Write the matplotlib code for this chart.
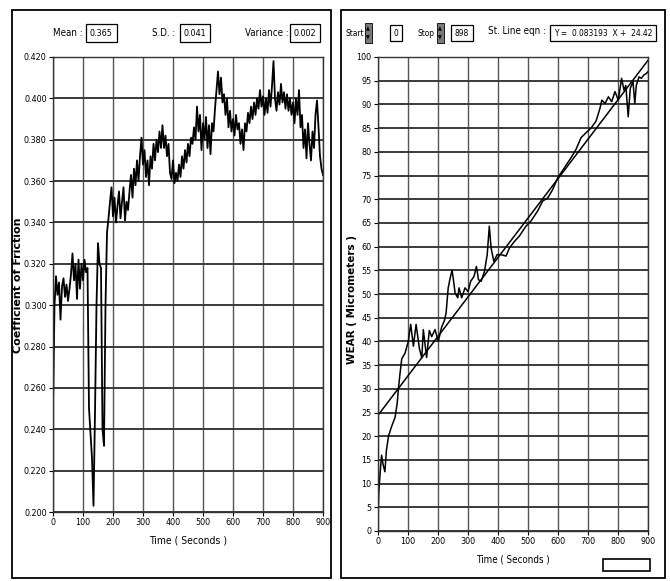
import numpy as np
import matplotlib
matplotlib.use("Agg")
from matplotlib import pyplot as plt
from matplotlib.patches import Rectangle

# coefficient of friction, sampled every 5 s
cof_time = np.arange(0, 901, 5)
cof_vals = [
    0.250, 0.300, 0.314, 0.305, 0.311, 0.293, 0.309, 0.313, 0.304, 0.310,
    0.302, 0.308, 0.315, 0.325, 0.312, 0.320, 0.303, 0.322, 0.308, 0.320,
    0.312, 0.322, 0.316, 0.318, 0.250, 0.238, 0.226, 0.203, 0.248, 0.300,
    0.330, 0.320, 0.318, 0.240, 0.232, 0.300, 0.335, 0.342, 0.350, 0.357,
    0.343, 0.352, 0.340, 0.348, 0.355, 0.342, 0.350, 0.357, 0.341, 0.350,
    0.346, 0.355, 0.363, 0.352, 0.366, 0.358, 0.370, 0.360, 0.372, 0.381,
    0.368, 0.375, 0.362, 0.370, 0.358, 0.372, 0.366, 0.378, 0.370, 0.380,
    0.374, 0.384, 0.376, 0.387, 0.376, 0.382, 0.372, 0.378, 0.364, 0.361,
    0.370, 0.359, 0.364, 0.360, 0.368, 0.362, 0.372, 0.366, 0.375, 0.369,
    0.378, 0.372, 0.381, 0.378, 0.386, 0.380, 0.396, 0.384, 0.392, 0.375,
    0.388, 0.380, 0.391, 0.376, 0.387, 0.373, 0.388, 0.384, 0.395, 0.404,
    0.413, 0.402, 0.410, 0.398, 0.402, 0.392, 0.400, 0.386, 0.394, 0.384,
    0.390, 0.382, 0.392, 0.385, 0.388, 0.378, 0.385, 0.375, 0.388, 0.384,
    0.393, 0.388, 0.396, 0.390, 0.398, 0.392, 0.400, 0.395, 0.404, 0.396,
    0.401, 0.392, 0.400, 0.393, 0.404, 0.396, 0.406, 0.418, 0.400, 0.394,
    0.403, 0.397, 0.407, 0.398, 0.403, 0.395, 0.402, 0.394, 0.400, 0.392,
    0.398, 0.388, 0.400, 0.392, 0.404, 0.386, 0.392, 0.376, 0.385, 0.371,
    0.388, 0.378, 0.370, 0.384, 0.376, 0.392, 0.399, 0.386, 0.372, 0.366,
    0.363,
]

# wear curve
wear_time = [0, 3, 8, 12, 17, 23, 28, 35, 45, 57, 64, 68, 73, 79, 90,
             101, 109, 118, 127, 138, 146, 151, 162, 171, 179, 190, 201, 212,
             222, 227, 234, 241, 247, 252, 257, 266, 270, 279, 290, 300, 309,
             320, 328, 335, 344, 355, 364, 371, 377, 386, 397, 410, 427, 438,
             455, 471, 493, 510, 532, 549, 566, 582, 599, 621, 643, 660, 677,
             693, 710, 727, 740, 746, 757, 768, 779, 790, 801, 812, 820, 826,
             834, 841, 850, 856, 861, 870, 878, 886, 894, 900]
wear_vals = [3.5, 8.7, 13, 16, 14, 12.5, 17, 20, 22, 24, 27, 30, 33, 36.3, 37.5,
             40, 43.6, 39, 43.6, 38.5, 36.5, 42.5, 36.6, 42.3, 41, 42.5, 40, 43,
             44.5, 46, 51.3, 53.5, 55, 52.7, 50.2, 49.2, 51.3, 49.2, 51.3, 50.5, 52.7,
             53.7, 55.8, 53, 52.7, 54.8, 58.3, 64.3, 59.7, 56.9, 58.3, 58.3, 58, 59.7,
             61.1, 62.2, 64.3, 65.4, 67.5, 69.6, 70.3, 72, 74.5, 76.6, 78.7, 80.5, 83,
             84, 85, 86.5, 89.2, 90.9, 90.2, 91.6, 90.6, 92.7, 90.9, 95.5, 93, 94,
             87.4, 93.4, 94.8, 90.2, 94, 95.8, 95.5, 96.2, 96.5, 96.9]

slope = 0.083193
intercept = 24.42
mean_cof, sd_cof, var_cof = "0.365", "0.041", "0.002"
start_val, stop_val = "0", "898"

plt.rcParams['font.family'] = ['DejaVu Sans']
plt.rcParams['font.stretch'] = 'condensed'

fig = plt.figure(figsize=(6.70, 5.81), dpi=100)
W, H = 670.0, 581.0

def fx(px):
    return px / W

def fy(py):
    return 1 - py / H

def frame(x0, y0, x1, y1, lw=1.2):
    fig.patches.append(Rectangle((fx(x0), fy(y1)), fx(x1) - fx(x0), fy(y0) - fy(y1),
                                 transform=fig.transFigure, fill=False,
                                 edgecolor='black', linewidth=lw))

def valbox(x, y, s, fs=6.5):
    fig.text(fx(x), fy(y), s, ha='center', va='center', fontsize=fs,
             bbox=dict(boxstyle='square,pad=0.45', fc='white', ec='black', lw=0.9))

# outer panel frames
frame(12, 10, 331, 578, 1.3)
frame(341, 10, 665, 578, 1.3)

def style_axes(ax):
    ax.tick_params(labelsize=6.5, length=3, width=0.8, direction='out', pad=1.5)
    for s in ax.spines.values():
        s.set_color('#333333')
        s.set_linewidth(1.0)
    ax.grid(axis='y', color='#3a3a3a', linewidth=1.4)
    ax.grid(axis='x', color='#555555', linewidth=1.0)
    ax.set_axisbelow(True)

# left: coefficient of friction
ax1 = fig.add_axes([fx(53), fy(512), fx(323) - fx(53), fy(57) - fy(512)])
ax1.plot(cof_time, cof_vals, color='black', linewidth=1.3)
ax1.set_xlim(0, 900)
ax1.set_ylim(0.2, 0.42)
ax1.set_xticks(np.arange(0, 901, 100))
ax1.set_yticks(np.arange(0.2, 0.4201, 0.02))
ax1.set_yticklabels([f"{v:.3f}" for v in np.arange(0.2, 0.4201, 0.02)])
style_axes(ax1)
ax1.set_xlabel("Time ( Seconds )", fontsize=7.5, labelpad=6)
fig.text(fx(18), fy(285), "Coefficient of Friction", rotation=90, ha='center',
         va='center', fontsize=8, fontweight='bold', fontstretch='normal')

fig.text(fx(68), fy(33), "Mean :", ha='center', va='center', fontsize=7)
valbox(101, 33, mean_cof)
fig.text(fx(164), fy(33), "S.D. :", ha='center', va='center', fontsize=7)
valbox(195, 33, sd_cof)
fig.text(fx(267), fy(33), "Variance :", ha='center', va='center', fontsize=7)
valbox(305, 33, var_cof)

# right: wear
ax2 = fig.add_axes([fx(378), fy(531), fx(648) - fx(378), fy(57) - fy(531)])
ax2.plot(wear_time, wear_vals, color='black', linewidth=1.1)
fit_x = np.array([0, 900])
ax2.plot(fit_x, slope * fit_x + intercept, color='black', linewidth=1.1)
ax2.set_xlim(0, 900)
ax2.set_ylim(0, 100)
ax2.set_xticks(np.arange(0, 901, 100))
ax2.set_yticks(np.arange(0, 101, 5))
style_axes(ax2)
ax2.set_xlabel("Time ( Seconds )", fontsize=7, labelpad=6)
fig.text(fx(352), fy(300), "WEAR ( Micrometers )", rotation=90, ha='center',
         va='center', fontsize=7.5, fontweight='bold', fontstretch='normal')

fig.text(fx(355), fy(33), "Start", ha='center', va='center', fontsize=6)
fig.text(fx(426), fy(33), "Stop", ha='center', va='center', fontsize=6)
for sx in (368, 440):
    fig.patches.append(Rectangle((fx(sx - 3.5), fy(43)), fx(7), fy(23) - fy(43),
                                 transform=fig.transFigure, fc='#7a7a7a',
                                 ec='black', lw=0.6))
    fig.text(fx(sx), fy(29), "\u25b2", ha='center', va='center', fontsize=4,
             color='black')
    fig.text(fx(sx), fy(37.5), "\u25bc", ha='center', va='center', fontsize=4,
             color='black')
valbox(396, 33, start_val, fs=6)
valbox(462, 33, stop_val, fs=6)
fig.text(fx(517), fy(31), "St. Line eqn :", ha='center', va='center', fontsize=7)
valbox(603, 33, f"Y =  {slope}  X +  {intercept}", fs=6)

# empty indicator box at bottom right
fig.patches.append(Rectangle((fx(603), fy(571)), fx(47), fy(559) - fy(571),
                             transform=fig.transFigure, fill=False,
                             edgecolor='black', linewidth=1.2))

fig.savefig("out.png", dpi=100)
